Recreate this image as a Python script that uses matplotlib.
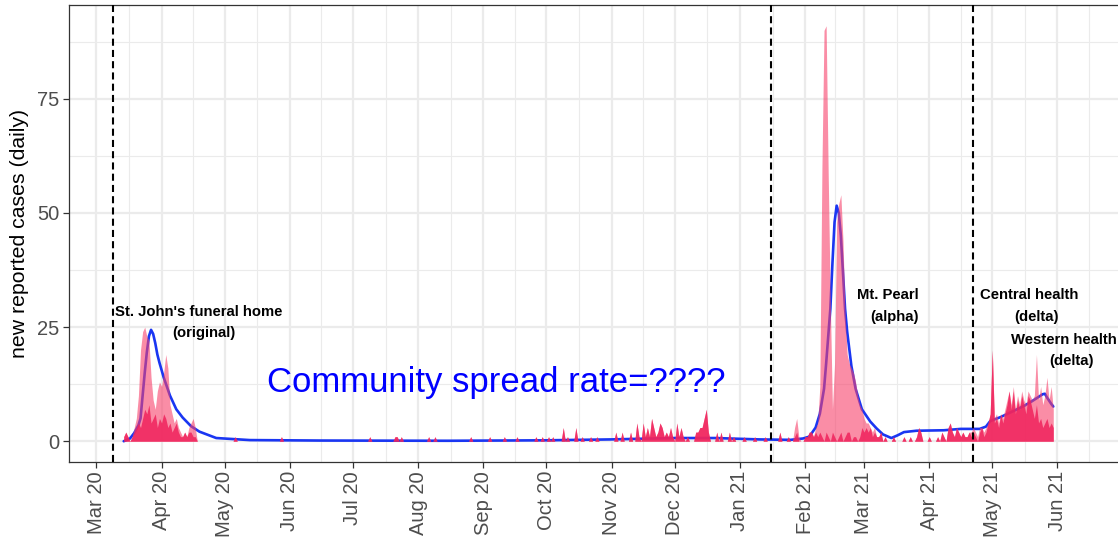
import numpy as np
import pandas as pd
import matplotlib
matplotlib.use("Agg")
import matplotlib.pyplot as plt
import matplotlib.dates as mdates

plt.rcParams['font.family'] = ['Liberation Sans', 'DejaVu Sans']

# daily new cases, spring 2020 (from Mar 14)
spring20_start = "2020-03-14"
spring20_total = [1, 2, 1, 0, 1, 3, 5, 10, 20, 24, 25, 23, 22, 14, 9, 7, 11, 13,
                  12, 15, 19, 16, 8, 6, 4, 5, 3, 2, 1, 2, 1, 3, 4, 5, 3]
spring20_sub = [1, 2, 1, 0, 1, 2, 3, 4, 3, 5, 7, 6, 8, 4, 5, 6, 3, 5,
                4, 6, 5, 3, 4, 2, 3, 4, 2, 1, 1, 2, 1, 2, 2, 1, 1]

# quiet stretches: single days with cases (same in both series)
quiet_dates = ["2020-05-06", "2020-05-28", "2020-07-09", "2020-07-21", "2020-07-22",
               "2020-07-24", "2020-08-06", "2020-08-09", "2020-08-26", "2020-09-04",
               "2020-09-11", "2020-09-17", "2020-09-26", "2020-09-29", "2020-10-02",
               "2020-10-04", "2020-10-09", "2020-10-11", "2020-10-15", "2020-10-18",
               "2020-10-22", "2020-10-25", "2020-11-03", "2020-11-06", "2020-11-10",
               "2020-11-13", "2020-11-14", "2020-11-16", "2020-11-17", "2020-11-18",
               "2020-11-19", "2020-11-20", "2020-11-21", "2020-11-22", "2020-11-23",
               "2020-11-24", "2020-11-25", "2020-11-26", "2020-11-27", "2020-11-28",
               "2020-11-29", "2020-11-30", "2020-12-02", "2020-12-03", "2020-12-04",
               "2020-12-05", "2020-12-07", "2020-12-11", "2020-12-12", "2020-12-13",
               "2020-12-14", "2020-12-15", "2020-12-16", "2020-12-17", "2020-12-21",
               "2020-12-23", "2020-12-27", "2020-12-29", "2021-01-03", "2021-01-08",
               "2021-01-13", "2021-01-20", "2021-01-24",
               "2021-03-11", "2021-03-15", "2021-03-20", "2021-03-23", "2021-03-26",
               "2021-03-27", "2021-03-28", "2021-04-01", "2021-04-05", "2021-04-07",
               "2021-04-08", "2021-04-10", "2021-04-11", "2021-04-12", "2021-04-13",
               "2021-04-14", "2021-04-15", "2021-04-16", "2021-04-17", "2021-04-18",
               "2021-04-19"]
quiet_cases = [1, 1, 1, 1, 1,
               1, 1, 1, 1, 1,
               1, 1, 1, 1, 1,
               1, 3, 1, 3, 1,
               1, 1, 2, 2, 2,
               4, 1, 4, 1, 3,
               1, 5, 3, 1, 2,
               4, 3, 1, 2, 1,
               3, 1, 4, 1, 3,
               1, 1, 2, 2, 3,
               3, 5, 7, 2, 2,
               2, 2, 1, 1, 1,
               1, 2, 1,
               1, 1, 1, 1, 1,
               3, 2, 1, 1, 2,
               1, 3, 4, 2, 1,
               3, 2, 1, 2, 1,
               1]

# daily new cases, winter 2021 (from Jan 27)
winter21_start = "2021-01-27"
winter21_total = [3, 5, 1, 0, 0,
                  1, 1, 2, 2, 1, 3, 4, 12, 60, 90, 91, 58, 30, 7, 17, 48, 52, 54,
                  44, 28, 19, 17, 16, 15, 13, 10, 8, 7,
                  5, 4, 4, 3, 2, 3, 1, 1, 2, 0]
winter21_sub = [1, 2, 0, 0, 0,
                1, 1, 2, 2, 1, 2, 1, 2, 1, 0, 2, 1, 0, 2, 1, 0, 1, 2,
                0, 1, 2, 2, 0, 1, 1, 0, 1, 3,
                2, 3, 2, 3, 1, 2, 1, 1, 2, 0]

# daily new cases, spring 2021 (from Apr 20)
spring21_start = "2021-04-20"
spring21_total = [2, 2, 3, 2, 1, 3, 3, 2, 3, 4, 6,
                  20, 5, 6, 4, 6, 5, 7, 9, 11, 8,
                  12, 7, 10, 8, 11, 9, 8, 11, 10, 9,
                  10, 19, 9, 12, 8, 10, 14, 9, 12, 7]
spring21_sub = [2, 1, 2, 1, 0, 2, 3, 1, 2, 4, 6,
                20, 4, 5, 3, 6, 4, 6, 8, 11, 7,
                11, 6, 9, 7, 10, 8, 6, 10, 9, 7,
                5, 8, 4, 5, 3, 4, 5, 3, 4, 3]

# smoothed trend
trend_dates = ["2020-03-14", "2020-03-17", "2020-03-19", "2020-03-21", "2020-03-22",
               "2020-03-23", "2020-03-24", "2020-03-25", "2020-03-26", "2020-03-27",
               "2020-03-28", "2020-03-29", "2020-03-30", "2020-03-31", "2020-04-02",
               "2020-04-05", "2020-04-08", "2020-04-11", "2020-04-15", "2020-04-19",
               "2020-04-27", "2020-05-13", "2020-06-15", "2020-08-15", "2020-10-01",
               "2020-11-01", "2020-12-01", "2020-12-20", "2021-01-10", "2021-01-25",
               "2021-01-31", "2021-02-03", "2021-02-06", "2021-02-08", "2021-02-10",
               "2021-02-11", "2021-02-12", "2021-02-13", "2021-02-14", "2021-02-15",
               "2021-02-16", "2021-02-17", "2021-02-18", "2021-02-19", "2021-02-20",
               "2021-02-21", "2021-02-23", "2021-02-25", "2021-02-28", "2021-03-04",
               "2021-03-07", "2021-03-10", "2021-03-14", "2021-03-17", "2021-03-20",
               "2021-03-26", "2021-04-08", "2021-04-16", "2021-04-25", "2021-04-28",
               "2021-04-30", "2021-05-05", "2021-05-11", "2021-05-16", "2021-05-20",
               "2021-05-25", "2021-05-26", "2021-05-27", "2021-05-28", "2021-05-29",
               "2021-05-30"]
trend_vals = [0.0, 0.6, 1.8, 3.5, 5.0,
              10.0, 15.0, 19.5, 23.0, 24.4,
              23.5, 21.5, 19.0, 17.2, 14.0,
              10.0, 7.0, 5.2, 3.3, 2.1,
              0.7, 0.25, 0.15, 0.1, 0.2,
              0.4, 0.7, 0.7, 0.4, 0.3,
              0.6, 1.0, 3.0, 6.0, 11.5,
              17.0, 23.0, 29.0, 39.0, 48.0,
              51.6, 50.0, 45.0, 37.0, 29.0,
              24.0, 16.5, 11.5, 7.0, 4.3,
              2.8, 1.5, 0.7, 1.3, 2.0,
              2.3, 2.4, 2.7, 2.7, 3.2,
              4.4, 5.3, 6.6, 7.7, 8.8,
              10.3, 10.4, 9.6, 8.9, 8.2,
              7.6]

event_dates = ["2020-03-09", "2021-01-16", "2021-04-22"]

# assemble daily series (days not listed had no cases)
days = pd.date_range(spring20_start, "2021-05-30", freq="D")
total = pd.Series(0.0, index=days)
sub = pd.Series(0.0, index=days)
for start, t, s in [(spring20_start, spring20_total, spring20_sub),
                    (winter21_start, winter21_total, winter21_sub),
                    (spring21_start, spring21_total, spring21_sub)]:
    idx = pd.date_range(start, periods=len(t), freq="D")
    total[idx] = t
    sub[idx] = s
qd = pd.to_datetime(quiet_dates)
total[qd] = quiet_cases
sub[qd] = quiet_cases

fig = plt.figure(figsize=(11.18, 5.41), dpi=100)
ax = fig.add_axes([68.5 / 1118, 79 / 541, 1071 / 1118, 457 / 541])

ax.plot(pd.to_datetime(trend_dates), trend_vals, color="#1a36f2", lw=1.9,
        solid_capstyle="round", zorder=3)
ax.fill_between(days, 0, total.values, color="#f7416b", alpha=0.6, lw=0, zorder=4)
ax.fill_between(days, 0, sub.values, color="#f0225c", alpha=0.85, lw=0, zorder=5)

for d in event_dates:
    ax.axvline(pd.Timestamp(d), color="black", lw=1.5, ls=(0, (3.4, 2.0)), zorder=6)

lab = dict(fontsize=10.7, fontweight="bold", ha="center", va="center", zorder=7)
ax.text(pd.Timestamp("2020-04-18 12:00"), 28.2, "St. John's funeral home", **lab)
ax.text(pd.Timestamp("2020-04-21"), 23.6, "(original)", **lab)
ax.text(pd.Timestamp("2021-03-12 12:00"), 32.1, "Mt. Pearl", **lab)
ax.text(pd.Timestamp("2021-03-15 12:00"), 27.3, "(alpha)", **lab)
ax.text(pd.Timestamp("2021-05-18 12:00"), 32.1, "Central health", **lab)
ax.text(pd.Timestamp("2021-05-22"), 27.3, "(delta)", **lab)
ax.text(pd.Timestamp("2021-06-04 06:00"), 22.1, "Western health", **lab)
ax.text(pd.Timestamp("2021-06-07 12:00"), 17.5, "(delta)", **lab)
ax.text(pd.Timestamp("2020-09-07"), 12.9, "Community spread rate=????",
        fontsize=25, color="blue", ha="center", va="center", zorder=7)

ax.set_xlim(pd.Timestamp("2020-02-16 18:00"), pd.Timestamp("2021-07-10"))
ax.set_ylim(-4.55, 95.55)

majors = pd.date_range("2020-03-01", "2021-07-01", freq="MS")
ax.set_xticks(majors[:-1])
minors = majors[:-1] + (majors[1:] - majors[:-1]) / 2
ax.set_xticks(minors, minor=True)
ax.xaxis.set_major_formatter(mdates.DateFormatter("%b %y"))
ax.set_yticks([0, 25, 50, 75])
ax.set_yticks([12.5, 37.5, 62.5, 87.5], minor=True)

ax.grid(which="major", color="#ebebeb", lw=1.6, zorder=0)
ax.grid(which="minor", color="#ebebeb", lw=0.8, zorder=0)
ax.set_axisbelow(True)

for s in ax.spines.values():
    s.set_color("#333333")
    s.set_linewidth(0.9)
ax.tick_params(which="major", length=4, width=0.9, color="#333333",
               labelsize=14.5, labelcolor="#4d4d4d", pad=2.5)
ax.tick_params(which="minor", length=0)
plt.setp(ax.get_xticklabels(), rotation=90, ha="center", va="top")

ax.set_ylabel("new reported cases (daily)", fontsize=15.3, color="black", labelpad=6)

fig.savefig("out.png", dpi=100)
